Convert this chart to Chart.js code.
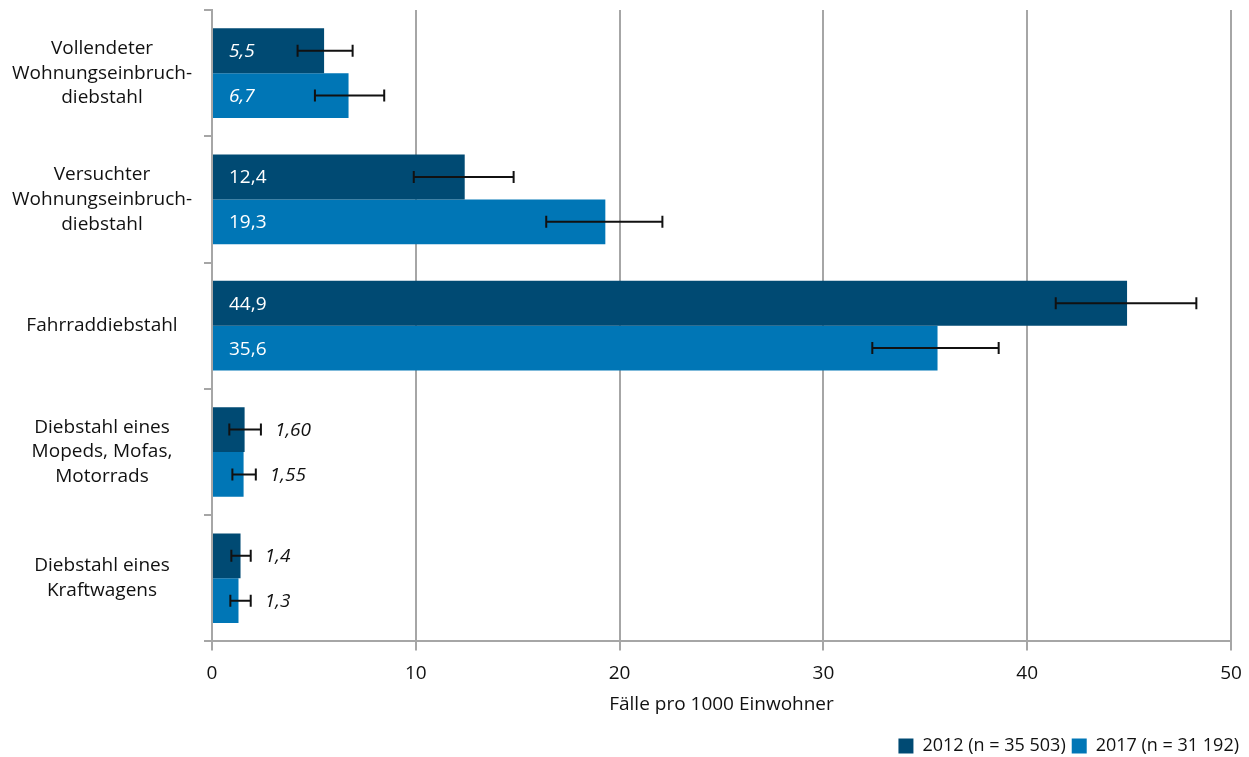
<!DOCTYPE html>
<html>
<head>
<meta charset="utf-8">
<script src="https://cdn.jsdelivr.net/npm/chart.js@4"></script>
<style>
  body { margin: 0; background: #fff; }
  #wrap { width: 1249px; height: 757px; }
</style>
</head>
<body>
<div id="wrap"><canvas id="diebstahl" width="1249" height="757"></canvas></div>
<script>
// Kategorien (mehrzeilig wie im Original)
const kategorien = [
    ['Vollendeter', 'Wohnungseinbruch-', 'diebstahl'],
    ['Versuchter', 'Wohnungseinbruch-', 'diebstahl'],
    ['Fahrraddiebstahl'],
    ['Diebstahl eines', 'Mopeds, Mofas,', 'Motorrads'],
    ['Diebstahl eines', 'Kraftwagens']
];

// Werte pro 1000 Einwohner
const werte2012 = [5.5, 12.4, 44.9, 1.60, 1.4];
const werte2017 = [6.7, 19.3, 35.6, 1.55, 1.3];
const beschriftung2012 = ['5,5', '12,4', '44,9', '1,60', '1,4'];
const beschriftung2017 = ['6,7', '19,3', '35,6', '1,55', '1,3'];

// Konfidenzintervalle
const unten2012 = [4.2, 9.9, 41.4, 0.85, 0.95];
const oben2012  = [6.9, 14.8, 48.3, 2.4, 1.9];
const unten2017 = [5.05, 16.4, 32.4, 1.0, 0.9];
const oben2017  = [8.45, 22.1, 38.6, 2.15, 1.9];

// kursive Werte (unsichere Schätzung)
const kursiv2012 = [true, false, false, true, true];
const kursiv2017 = [true, false, false, true, true];

const achsenTicks = [0, 10, 20, 30, 40, 50];

const schrift = "'Open Sans', 'Noto Sans', sans-serif";
const grau = '#a6a6a6';

// Plugin für Fehlerbalken und Werte
const fehlerbalken = {
    id: 'fehlerbalken',
    afterDatasetsDraw(chart) {
        const ctx = chart.ctx;
        const x = chart.scales.x;
        const info = [
            { unten: unten2012, oben: oben2012, text: beschriftung2012, kursiv: kursiv2012 },
            { unten: unten2017, oben: oben2017, text: beschriftung2017, kursiv: kursiv2017 }
        ];
        info.forEach((d, di) => {
            const meta = chart.getDatasetMeta(di);
            meta.data.forEach((bar, i) => {
                const y = bar.y;
                const x1 = x.getPixelForValue(d.unten[i]);
                const x2 = x.getPixelForValue(d.oben[i]);
                ctx.save();
                ctx.strokeStyle = '#111';
                ctx.lineWidth = 2;
                ctx.beginPath();
                ctx.moveTo(x1, y); ctx.lineTo(x2, y);
                ctx.moveTo(x1, y - 6); ctx.lineTo(x1, y + 6);
                ctx.moveTo(x2, y - 6); ctx.lineTo(x2, y + 6);
                ctx.stroke();

                ctx.font = (d.kursiv[i] ? 'italic ' : '') + '19px ' + schrift;
                ctx.textBaseline = 'middle';
                ctx.textAlign = 'left';
                const breite = bar.x - bar.base;
                if (breite > 60) {
                    ctx.fillStyle = '#fff';
                    ctx.fillText(d.text[i], bar.base + 16, y + 1);
                } else {
                    ctx.fillStyle = '#111';
                    ctx.fillText(d.text[i], x2 + 14, y + 1);
                }
                ctx.restore();
            });
        });
    }
};

const ctx = document.getElementById('diebstahl').getContext('2d');
new Chart(ctx, {
    type: 'bar',
    data: {
        labels: kategorien,
        datasets: [
            {
                label: '2012 (n = 35 503)',
                data: werte2012,
                backgroundColor: '#004a73',
                categoryPercentage: 0.71,
                barPercentage: 1.0
            },
            {
                label: '2017 (n = 31 192)',
                data: werte2017,
                backgroundColor: '#0076b6',
                categoryPercentage: 0.71,
                barPercentage: 1.0
            }
        ]
    },
    options: {
        indexAxis: 'y',
        responsive: false,
        animation: false,
        layout: { padding: { top: 10, right: 4, left: 0, bottom: -8 } },
        scales: {
            x: {
                min: 0,
                max: 50,
                afterBuildTicks: (axis) => { axis.ticks = achsenTicks.map(v => ({ value: v })); },
                afterFit: (axis) => { axis.paddingRight = 18; },
                grid: {
                    color: grau,
                    lineWidth: 2,
                    tickLength: 9,
                    tickColor: grau
                },
                border: { display: true, color: grau, width: 2 },
                ticks: {
                    color: '#111',
                    font: { family: schrift, size: 19 },
                    padding: 12
                },
                title: {
                    display: true,
                    text: 'Fälle pro 1000 Einwohner',
                    color: '#111',
                    font: { family: schrift, size: 19 },
                    padding: { top: -4, bottom: 15 }
                }
            },
            y: {
                grid: {
                    offset: true,
                    drawOnChartArea: false,
                    tickLength: 8,
                    color: grau,
                    lineWidth: 2
                },
                border: { display: true, color: grau, width: 2 },
                ticks: {
                    color: '#111',
                    font: { family: schrift, size: 19, lineHeight: 1.3 },
                    crossAlign: 'center',
                    padding: 12
                },
                afterFit: (axis) => {
                    axis.width = 212;
                    axis.paddingTop = 0;
                    axis.paddingBottom = 0;
                }
            }
        },
        plugins: {
            legend: {
                position: 'bottom',
                align: 'end',
                labels: {
                    color: '#111',
                    font: { family: schrift, size: 18 },
                    boxWidth: 15,
                    boxHeight: 15,
                    padding: 6
                }
            },
            tooltip: { enabled: false }
        }
    },
    plugins: [fehlerbalken]
});
</script>
</body>
</html>
